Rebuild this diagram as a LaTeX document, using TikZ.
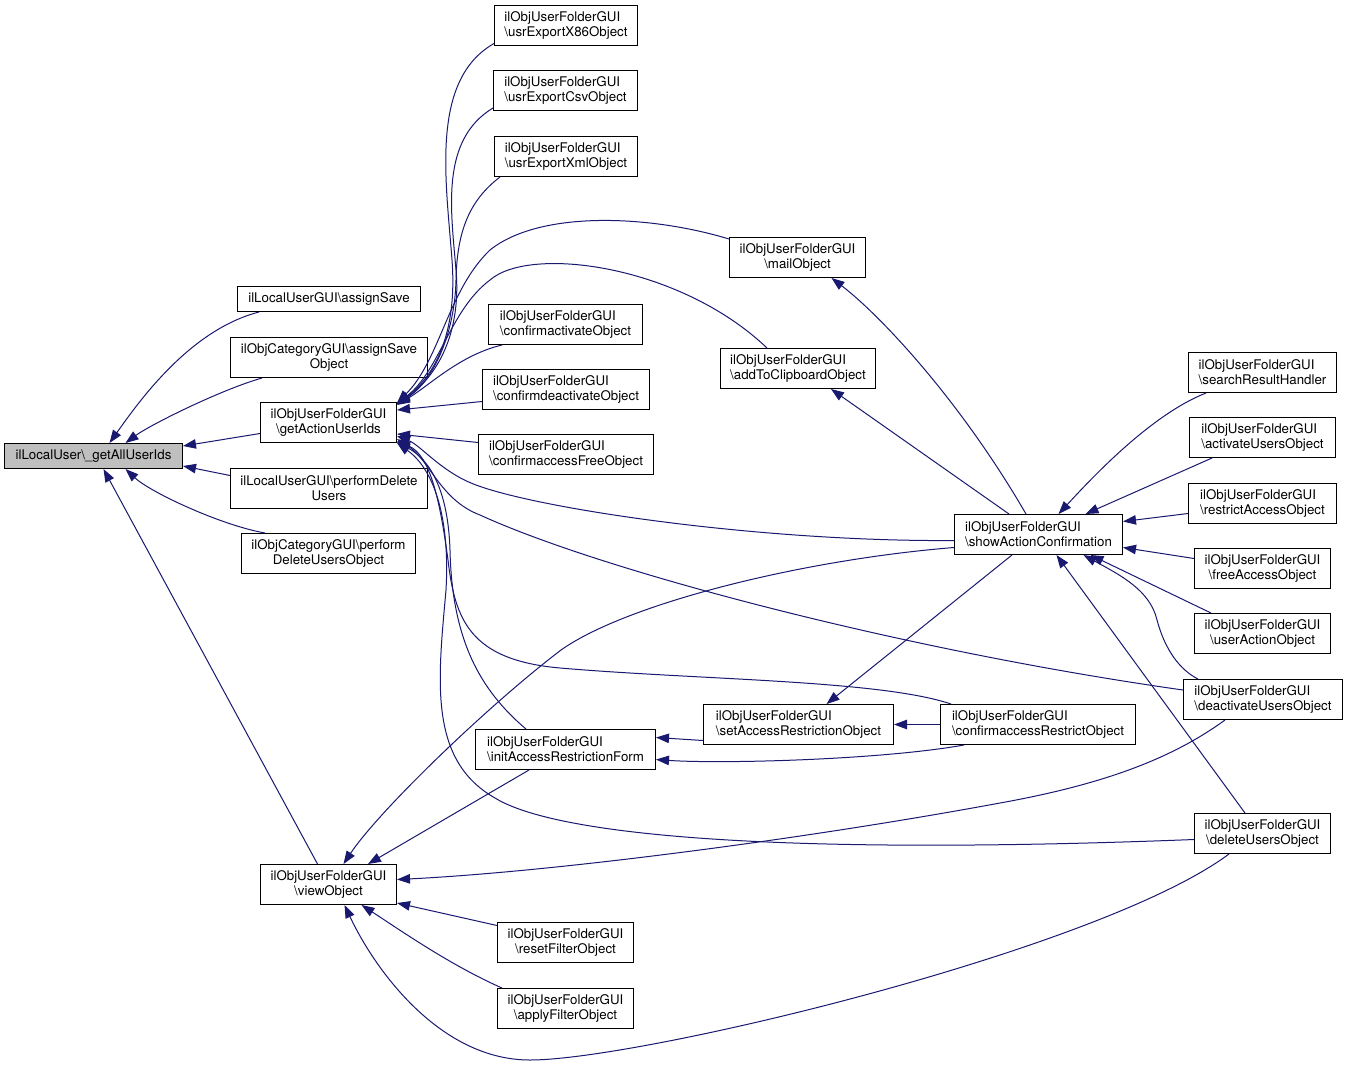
\documentclass[tikz,border=0pt]{standalone}
\usepackage{fontspec}
\setmainfont{TeX Gyre Heros}
\usetikzlibrary{arrows.meta}
\definecolor{navyc}{HTML}{191970}
\definecolor{grayfill}{HTML}{BFBFBF}
\newcommand{\nodefont}{\fontsize{13.3}{15}\selectfont}
\newcommand{\bs}{\textbackslash}
\tikzset{
  box/.style={draw=black, fill=white, line width=1pt, inner sep=0pt, font=\nodefont, text=black},
  lb/.style={box, align=left},
  cb/.style={box, align=center},
  edge/.style={draw=navyc, line width=1pt, arrows={Triangle[length=13pt,width=9.5pt]-}}
}
\begin{document}
\begin{tikzpicture}[x=1pt,y=-1pt]
\useasboundingbox (0,0) rectangle (1348,1065);
\fill[white] (0,0) rectangle (1348,1065);

% nodes
\node[cb, fill=grayfill, minimum width=178, minimum height=25] (A) at (93.5,456) {ilLocalUser\bs\_getAllUserIds};
\node[cb, minimum width=183, minimum height=25] (B) at (329,299) {ilLocalUserGUI\bs assignSave};
\node[cb, minimum width=197, minimum height=40] (C) at (329,357.5) {ilObjCategoryGUI\bs assignSave\\Object};
\node[cb, minimum width=136, minimum height=40] (D) at (328.5,422.5) {ilObjUserFolderGUI\\\bs getActionUserIds};
\node[cb, minimum width=197, minimum height=40] (E) at (329,488.5) {ilLocalUserGUI\bs performDelete\\Users};
\node[cb, minimum width=174, minimum height=40] (F) at (328.5,553.5) {ilObjCategoryGUI\bs perform\\DeleteUsersObject};
\node[cb, minimum width=136, minimum height=40] (G) at (328.5,884.5) {ilObjUserFolderGUI\\\bs viewObject};

\node[lb, minimum width=143, minimum height=40] (H1) at (566,25.5) {ilObjUserFolderGUI\\\bs usrExportX86Object};
\node[lb, minimum width=144, minimum height=40] (H2) at (565.5,90.5) {ilObjUserFolderGUI\\\bs usrExportCsvObject};
\node[lb, minimum width=143, minimum height=40] (H3) at (566,156.5) {ilObjUserFolderGUI\\\bs usrExportXmlObject};
\node[lb, minimum width=154, minimum height=40] (I1) at (565.5,324.5) {ilObjUserFolderGUI\\\bs confirmactivateObject};
\node[lb, minimum width=167, minimum height=40] (I2) at (566,389.5) {ilObjUserFolderGUI\\\bs confirmdeactivateObject};
\node[lb, minimum width=175, minimum height=40] (I3) at (566,454.5) {ilObjUserFolderGUI\\\bs confirmaccessFreeObject};
\node[lb, minimum width=180, minimum height=40] (J) at (565.5,749.5) {ilObjUserFolderGUI\\\bs initAccessRestrictionForm};
\node[cb, minimum width=136, minimum height=40] (K1) at (565.5,942.5) {ilObjUserFolderGUI\\\bs resetFilterObject};
\node[cb, minimum width=136, minimum height=40] (K2) at (565.5,1008.5) {ilObjUserFolderGUI\\\bs applyFilterObject};

\node[cb, minimum width=136, minimum height=40] (L1) at (797.5,257.5) {ilObjUserFolderGUI\\\bs mailObject};
\node[lb, minimum width=155, minimum height=40] (L2) at (798,368.5) {ilObjUserFolderGUI\\\bs addToClipboardObject};
\node[lb, minimum width=190, minimum height=40] (L3) at (798.5,724.5) {ilObjUserFolderGUI\\\bs setAccessRestrictionObject};

\node[lb, minimum width=168, minimum height=40] (M) at (1038.5,534.5) {ilObjUserFolderGUI\\\bs showActionConfirmation};
\node[lb, minimum width=195, minimum height=40] (N) at (1038,724.5) {ilObjUserFolderGUI\\\bs confirmaccessRestrictObject};

\node[lb, minimum width=148, minimum height=40] (R1) at (1262.5,372.5) {ilObjUserFolderGUI\\\bs searchResultHandler};
\node[lb, minimum width=146, minimum height=40] (R2) at (1262.5,437.5) {ilObjUserFolderGUI\\\bs activateUsersObject};
\node[lb, minimum width=148, minimum height=40] (R3) at (1262.5,503.5) {ilObjUserFolderGUI\\\bs restrictAccessObject};
\node[cb, minimum width=136, minimum height=40] (R4) at (1262.5,568.5) {ilObjUserFolderGUI\\\bs freeAccessObject};
\node[cb, minimum width=136, minimum height=40] (R5) at (1262.5,633.5) {ilObjUserFolderGUI\\\bs userActionObject};
\node[lb, minimum width=159, minimum height=40] (R6) at (1263,699.5) {ilObjUserFolderGUI\\\bs deactivateUsersObject};
\node[cb, minimum width=136, minimum height=40] (R7) at (1262.5,833.5) {ilObjUserFolderGUI\\\bs deleteUsersObject};

% edges into A
\draw[edge] ([shift={(16,0)}]A.north) .. controls (140,400) and (190,330) .. ([shift={(22,0)}]B.south west);
\draw[edge] ([shift={(32,0)}]A.north) .. controls (150,425) and (220,390) .. ([shift={(32,0)}]C.south west);
\draw[edge] ([shift={(0,-10)}]A.east) -- ([shift={(0,11)}]D.west);
\draw[edge] ([shift={(0,10)}]A.east) -- ([shift={(0,-13)}]E.west);
\draw[edge] ([shift={(32,0)}]A.south) .. controls (150,492) and (220,525) .. ([shift={(24,0)}]F.north west);
\draw[edge] ([shift={(10,0)}]A.south) -- ([shift={(-11,0)}]G.north);

% edges into D
\draw[edge] ([shift={(0,1)}]D.north east) .. controls (430,380) and (458,340) .. (452,260)
  .. controls (446,180) and (430,80) .. ([shift={(0,-2.5)}]H1.south west);
\draw[edge] ([shift={(0,2)}]D.north east) .. controls (432,380) and (462,340) .. (456,270)
  .. controls (451,210) and (440,140) .. ([shift={(0,-3)}]H2.south west);
\draw[edge] ([shift={(0,2)}]D.north east) .. controls (435,380) and (455,330) .. (456,280)
  .. controls (457,230) and (470,200) .. ([shift={(6,0)}]H3.south west);
\draw[edge] ([shift={(0,1)}]D.north east) .. controls (440,360) and (448,290) .. (490,250)
  .. controls (540,210) and (650,215) .. ([shift={(0,2)}]L1.north west);
\draw[edge] ([shift={(0,2)}]D.north east) .. controls (440,370) and (450,310) .. (490,280)
  .. controls (530,245) and (680,265) .. ([shift={(47,0)}]L2.north west);
\draw[edge] ([shift={(0,3)}]D.north east) .. controls (430,385) and (460,355) .. ([shift={(14,0)}]I1.south west);
\draw[edge] ([shift={(0,8)}]D.north east) -- ([shift={(0,12)}]I2.west);
\draw[edge] ([shift={(0,-9)}]D.south east) -- ([shift={(0,-12)}]I3.west);
\draw[edge] ([shift={(0,-7)}]D.south east) .. controls (420,445) and (440,470) .. (471,483)
  .. controls (530,508) and (760,542) .. ([shift={(0,6)}]M.west);
\draw[edge] ([shift={(0,-4)}]D.south east) .. controls (430,460) and (440,500) .. (480,515)
  .. controls (600,570) and (900,650) .. ([shift={(0,-9.5)}]R6.west);
\draw[edge] ([shift={(0,-2)}]D.south east) .. controls (430,455) and (440,500) .. (448,560)
  .. controls (455,620) and (470,660) .. (560,668)
  .. controls (700,680) and (880,680) .. ([shift={(11,0)}]N.north west);
\draw[edge] ([shift={(0,-1)}]D.south east) .. controls (430,460) and (448,490) .. (450,550)
  .. controls (452,640) and (480,690) .. ([shift={(51,0)}]J.north west);
\draw[edge] (D.south east) .. controls (435,470) and (450,520) .. (446,590)
  .. controls (438,680) and (428,760) .. (495,798)
  .. controls (560,838) and (800,855) .. ([shift={(0,6)}]R7.west);

% edges into G
\draw[edge] ([shift={(15,0)}]G.north) .. controls (378,812) and (485,708) .. (561,650)
  .. controls (626,604) and (800,560) .. ([shift={(0,13)}]M.west);
\draw[edge] ([shift={(-29,0)}]G.north east) -- ([shift={(54,0)}]J.south west);
\draw[edge] ([shift={(0,-5)}]G.east) .. controls (550,872) and (800,840) .. (1000,803)
  .. controls (1100,785) and (1170,760) .. ([shift={(42,0)}]R6.south west);
\draw[edge] ([shift={(0,-2)}]G.south east) -- ([shift={(0,-17)}]K1.west);
\draw[edge] ([shift={(33,0)}]G.south) .. controls (400,930) and (450,965) .. ([shift={(5,0)}]K2.north west);
\draw[edge] ([shift={(16,0)}]G.south) .. controls (375,970) and (440,1060) .. (530,1060)
  .. controls (640,1060) and (1100,950) .. ([shift={(35,0)}]R7.south west);

% edges into M
\draw[edge] ([shift={(20,0)}]M.north) .. controls (1090,480) and (1150,415) .. ([shift={(18,0)}]R1.south west);
\draw[edge] ([shift={(47,0)}]M.north) -- ([shift={(23,0)}]R2.south west);
\draw[edge] ([shift={(0,-13)}]M.east) -- ([shift={(0,10)}]R3.west);
\draw[edge] ([shift={(0,13)}]M.east) -- ([shift={(0,-10)}]R4.west);
\draw[edge] ([shift={(52,0)}]M.south) -- ([shift={(17,0)}]R5.north west);
\draw[edge] ([shift={(45,0)}]M.south) .. controls (1120,575) and (1150,590) .. (1157,620)
  .. controls (1165,650) and (1180,670) .. ([shift={(15,0)}]R6.north west);
\draw[edge] ([shift={(18,0)}]M.south) -- ([shift={(51,0)}]R7.north west);

% edges from M / N / L3
\draw[edge] ([shift={(34,0)}]L1.south) .. controls (880,315) and (960,400) .. ([shift={(72,0)}]M.north west);
\draw[edge] ([shift={(33,0)}]L2.south) -- ([shift={(55,0)}]M.north west);
\draw[edge] ([shift={(28,0)}]L3.north) -- ([shift={(58,0)}]M.south west);
\draw[edge] (L3.east) -- (N.west);
\draw[edge] ([shift={(0,-12)}]J.east) -- ([shift={(0,16)}]L3.west);
\draw[edge] ([shift={(0,10)}]J.east) .. controls (720,764) and (880,760) .. ([shift={(24,0)}]N.south west);
\end{tikzpicture}
\end{document}
